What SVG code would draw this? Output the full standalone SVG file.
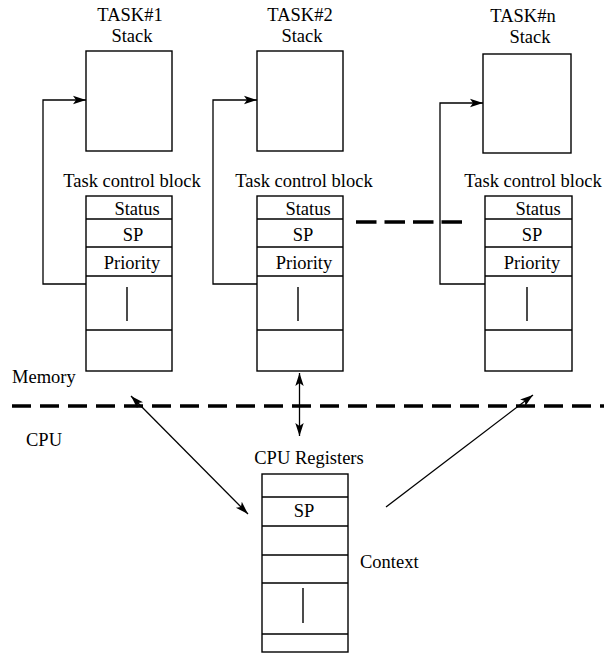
<svg xmlns="http://www.w3.org/2000/svg" width="615" height="653" viewBox="0 0 615 653">
<style>
text{font-family:'Liberation Serif','Times New Roman',Times,serif;font-size:18.5px;fill:#000}
.m{text-anchor:middle}
.box{fill:#fff;stroke:#000;stroke-width:1.4}
.ln{stroke:#000;stroke-width:1.4;fill:none}
.con{stroke:#000;stroke-width:1.3;fill:none}
.dash{stroke:#000;stroke-width:3.5;fill:none}
</style>
<defs>
<marker id="ah" markerUnits="userSpaceOnUse" markerWidth="14" markerHeight="10" viewBox="0 0 14 10" refX="13" refY="5" orient="auto-start-reverse">
<path d="M0,0.8 L13,5 L0,9.2 L3,5 z" fill="#000"/>
</marker>
</defs>
<rect width="615" height="653" fill="#fff"/>
<g font-family="Liberation Serif, Times New Roman, serif">
<g id="task1">
<text class="m" x="130" y="21">TASK#1</text>
<text class="m" x="132" y="42">Stack</text>
<rect class="box" x="86" y="51" width="86" height="100"/>
<text class="m" x="132" y="187">Task control block</text>
<rect class="box" x="86" y="196" width="86" height="175"/>
<path class="ln" d="M86,219H172M86,247H172M86,276H172M86,330H172M127,287V321"/>
<text class="m" x="137" y="215">Status</text>
<text class="m" x="133" y="241">SP</text>
<text class="m" x="132" y="269">Priority</text>
</g>

<g id="task2">
<text class="m" x="300" y="21">TASK#2</text>
<text class="m" x="302" y="42">Stack</text>
<rect class="box" x="257" y="51" width="86" height="100"/>
<text class="m" x="304" y="187">Task control block</text>
<rect class="box" x="257" y="196" width="86" height="175"/>
<path class="ln" d="M257,219H343M257,247H343M257,276H343M257,330H343M298,287V321"/>
<text class="m" x="308" y="215">Status</text>
<text class="m" x="303" y="241">SP</text>
<text class="m" x="304" y="269">Priority</text>
</g>

<g id="taskn">
<text class="m" x="523" y="22">TASK#n</text>
<text class="m" x="530" y="43">Stack</text>
<rect class="box" x="483" y="54" width="88" height="99"/>
<text class="m" x="533" y="187">Task control block</text>
<rect class="box" x="485" y="196" width="87" height="175"/>
<path class="ln" d="M485,219H572M485,247H572M485,276H572M485,330H572M527,287V321"/>
<text class="m" x="538" y="215">Status</text>
<text class="m" x="532" y="241">SP</text>
<text class="m" x="532" y="269">Priority</text>
</g>

<g id="cpu">
<text class="m" x="309" y="464">CPU Registers</text>
<rect class="box" x="262" y="474" width="86" height="178"/>
<path class="ln" d="M262,497H348M262,526H348M262,555H348M262,583H348M262,634H348M303,588V623"/>
<text class="m" x="304" y="517">SP</text>
<text x="360" y="568">Context</text>
</g>

<g id="labels">
<text x="12" y="383">Memory</text>
<text x="26" y="446">CPU</text>
</g>
</g>
<g id="connectors">
<path class="dash" d="M12,406H604" stroke-dasharray="19 9"/>
<path class="dash" d="M356,222H463" stroke-dasharray="20.5 8"/>
<path class="con" d="M86,284H43V100H86" marker-end="url(#ah)"/>
<path class="con" d="M257,284H213V100H257" marker-end="url(#ah)"/>
<path class="con" d="M485,284H440V103H483" marker-end="url(#ah)"/>
<path class="con" d="M299.5,373V436" marker-start="url(#ah)" marker-end="url(#ah)"/>
<path class="con" d="M131,396L248,514" marker-start="url(#ah)" marker-end="url(#ah)"/>
<path class="con" d="M386,507L533,395" marker-end="url(#ah)"/>
</g>
</svg>
